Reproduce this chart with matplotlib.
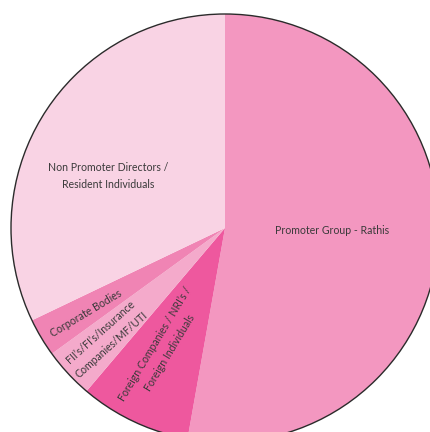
import matplotlib.pyplot as plt
from matplotlib.patches import Circle

# Shareholding pattern (percent of equity)
categories = [
    "Promoter Group - Rathis",
    "Foreign Companies / NRI\u2019s /\nForeign Individuals",
    "FII\u2019s/FI\u2019s/Insurance\nCompanies/MF/UTI",
    "Corporate Bodies",
    "Non Promoter Directors /\nResident Individuals",
]
shares = [52.8, 8.4, 3.8, 2.9, 32.1]
colors = ["#F397C0", "#EE589E", "#F4AACB", "#F084B4", "#F9D3E4"]

# label placement in pixel coords (x, y from top) and text rotation
label_pos = [(332, 231), (162, 348), (106, 338), (86, 313), (108, 176)]
label_rot = [0, 59, 42, 31, 0]

W, H = 430, 432
cx, cy, r = 225, 228, 214

fig = plt.figure(figsize=(W / 100, H / 100), dpi=100)
ax = fig.add_axes([0, 0, 1, 1])

ax.pie(
    shares,
    colors=colors,
    startangle=90,
    counterclock=False,
    center=(cx, H - cy),
    radius=r,
    wedgeprops=dict(linewidth=0),
    frame=True,
)
ax.set_xlim(0, W)
ax.set_ylim(0, H)
ax.set_aspect("equal")
ax.axis("off")

ax.add_patch(Circle((cx, H - cy), r, fill=False, edgecolor="#2b2b2b", linewidth=1.0))

for text, (x, y), rot in zip(categories, label_pos, label_rot):
    ax.text(
        x, H - y, text,
        ha="center", va="center", rotation=rot,
        rotation_mode="anchor", fontsize=7.6, family="Lato",
        color="#3a3a3a", linespacing=1.7,
    )

fig.savefig("out.png", dpi=100)
